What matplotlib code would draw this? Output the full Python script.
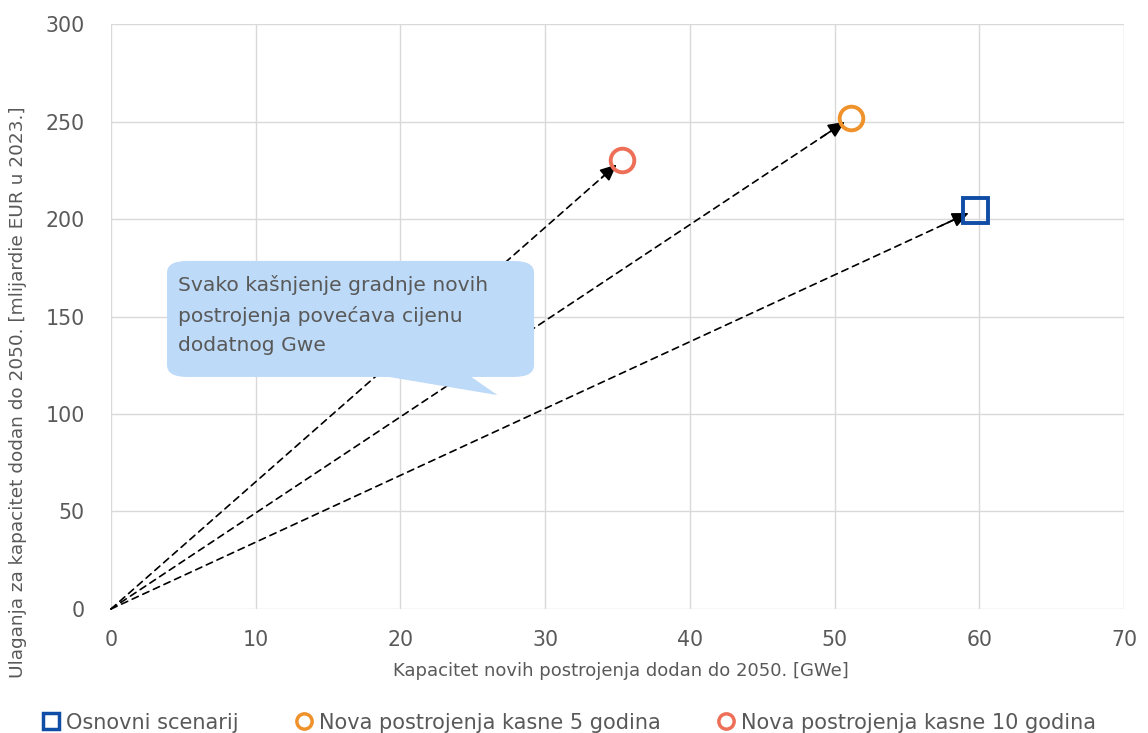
import matplotlib
matplotlib.use("Agg")
import matplotlib.pyplot as plt
from matplotlib.patches import FancyBboxPatch, Polygon
from matplotlib.lines import Line2D

# data
scenarios = ["Osnovni scenarij", "Nova postrojenja kasne 5 godina", "Nova postrojenja kasne 10 godina"]
capacity_gwe = [59.7, 51.1, 35.3]
investment_beur = [204.6, 251.8, 230.3]
colors = ["#0F4DA6", "#F0922B", "#EE6F57"]
markers = ["s", "o", "o"]

x_ticks = [0, 10, 20, 30, 40, 50, 60, 70]
y_ticks = [0, 50, 100, 150, 200, 250, 300]

callout_text = "Svako kašnjenje gradnje novih\npostrojenja povećava cijenu\ndodatnog Gwe"

fig = plt.figure(figsize=(11.48, 7.33), dpi=100)
ax = fig.add_axes([0.0967, 0.1692, 0.8825, 0.798])

ax.set_xlim(0, 70)
ax.set_ylim(0, 300)
ax.set_xticks(x_ticks)
ax.set_yticks(y_ticks)
ax.grid(True, color="#D9D9D9", linewidth=1)
ax.set_axisbelow(True)
for s in ax.spines.values():
    s.set_visible(False)
ax.tick_params(length=0, labelsize=14.8, labelcolor="#595959")
ax.tick_params(axis="x", pad=15)
ax.tick_params(axis="y", pad=19)

# dashed arrows from origin to each scenario point
for x, y in zip(capacity_gwe, investment_beur):
    # dashed shaft
    ax.annotate("", xy=(x, y), xytext=(0, 0),
                arrowprops=dict(arrowstyle="-", linestyle=(0, (4, 3)), color="black",
                                lw=1.2, shrinkA=0, shrinkB=12), zorder=3)
    # solid head
    ax.annotate("", xy=(x, y), xytext=(0.96 * x, 0.96 * y),
                arrowprops=dict(arrowstyle="-|>,head_length=1.0,head_width=0.45",
                                color="black", lw=1.2, shrinkA=0, shrinkB=5), zorder=3)

# markers
for x, y, c, m in zip(capacity_gwe, investment_beur, colors, markers):
    ax.plot([x], [y], marker=m, markersize=17 if m == "o" else 18, markerfacecolor="none",
            markeredgecolor=c, markeredgewidth=2.8, linestyle="none", zorder=4)

# callout bubble
box = FancyBboxPatch((3.87, 119), 25.36, 59.5,
                     boxstyle="round,pad=0,rounding_size=1.4",
                     mutation_aspect=4.3, facecolor="#BDDAF8", edgecolor="none", zorder=5)
ax.add_patch(box)
tail = Polygon([(18.8, 119.5), (24.8, 119.5), (26.7, 109.7)], closed=True,
               facecolor="#BDDAF8", edgecolor="none", zorder=5)
ax.add_patch(tail)
ax.text(4.65, 171.5, callout_text, fontsize=14.6, color="#595959", va="top", ha="left",
        linespacing=1.7, zorder=6)

ax.set_xlabel("Kapacitet novih postrojenja dodan do 2050. [GWe]", fontsize=13,
              color="#595959")
ax.xaxis.set_label_coords(0.503, -0.09)
ax.set_ylabel("Ulaganja za kapacitet dodan do 2050. [mlijardie EUR u 2023.]", fontsize=13.3,
              color="#595959")
ax.yaxis.set_label_coords(-0.083, 0.37)

handles = [Line2D([], [], marker=m, linestyle="none", markerfacecolor="none",
                  markeredgecolor=c, markeredgewidth=2.5, markersize=11)
           for c, m in zip(colors, markers)]
fig.legend(handles, scenarios, loc="lower center", bbox_to_anchor=(0.495, -0.025), ncol=3,
           frameon=False, fontsize=15, handletextpad=0.25, columnspacing=2.6,
           labelcolor="#595959", handlelength=1.0)

fig.savefig("out.png", dpi=100)
